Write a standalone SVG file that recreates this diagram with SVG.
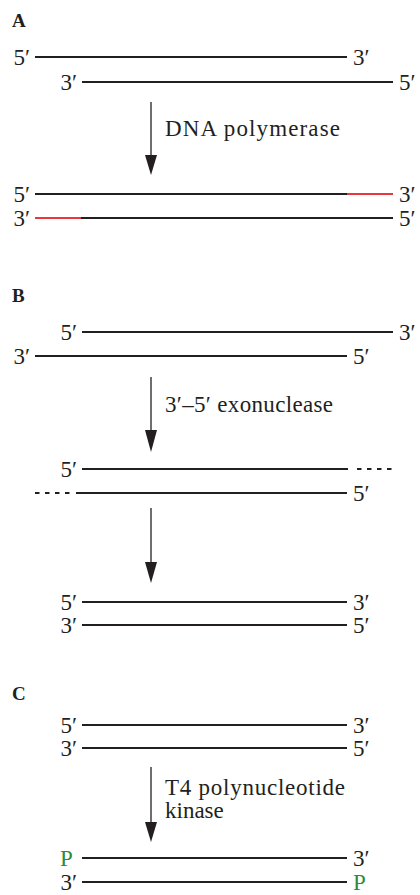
<svg xmlns="http://www.w3.org/2000/svg" width="420" height="895" viewBox="0 0 420 895" font-family="'Liberation Serif', 'Times New Roman', serif">
<style>
text{font-family:"Liberation Serif","Times New Roman",serif;font-size:23px;fill:#231f20}
.hd{font-weight:bold;font-size:19px}
.e{text-anchor:end}
.s{stroke:#231f20;stroke-width:1.8;fill:none}
.r{stroke:#e8383d;stroke-width:1.8;fill:none}
.d{stroke:#231f20;stroke-width:1.8;fill:none;stroke-dasharray:4.5 5.5}
.p{fill:#2e8b3a}
.ar{stroke:#231f20;stroke-width:1.3;fill:none}
.ah{fill:#231f20}
</style>
<rect width="420" height="895" fill="#fff"/>
<g id="panelA">
<text class="hd" x="12" y="27">A</text>
<g id="A-start">
<line class="s" x1="35" y1="57" x2="347" y2="57"/>
<text class="e" x="30" y="65">5′</text><text x="353" y="65">3′</text>
<line class="s" x1="82" y1="82" x2="393" y2="82"/>
<text class="e" x="77" y="90">3′</text><text x="399" y="90">5′</text>
</g>
<g id="A-end">
<line class="s" x1="35" y1="194" x2="347" y2="194"/>
<line class="r" x1="347" y1="194" x2="393" y2="194"/>
<text class="e" x="30" y="202">5′</text><text x="399" y="202">3′</text>
<line class="r" x1="35" y1="218" x2="81" y2="218"/>
<line class="s" x1="81" y1="218" x2="393" y2="218"/>
<text class="e" x="30" y="226">3′</text><text x="399" y="226">5′</text>
</g>
</g>
<g id="panelB">
<text class="hd" x="12" y="302">B</text>
<g id="B-start">
<line class="s" x1="82" y1="332" x2="393" y2="332"/>
<text class="e" x="77" y="340">5′</text><text x="399" y="340">3′</text>
<line class="s" x1="35" y1="356" x2="347" y2="356"/>
<text class="e" x="30" y="364">3′</text><text x="353" y="364">5′</text>
</g>
<g id="B-mid">
<line class="s" x1="82" y1="469" x2="348" y2="469"/>
<line class="d" x1="357" y1="469" x2="393" y2="469"/>
<text class="e" x="77" y="477">5′</text>
<line class="d" x1="35" y1="493" x2="71" y2="493"/>
<line class="s" x1="76" y1="493" x2="347" y2="493"/>
<text x="353" y="501">5′</text>
</g>
<g id="B-end">
<line class="s" x1="82" y1="602" x2="347" y2="602"/>
<text class="e" x="77" y="610">5′</text><text x="353" y="610">3′</text>
<line class="s" x1="82" y1="625" x2="347" y2="625"/>
<text class="e" x="77" y="633">3′</text><text x="353" y="633">5′</text>
</g>
</g>
<g id="panelC">
<text class="hd" x="12" y="700">C</text>
<g id="C-start">
<line class="s" x1="82" y1="725" x2="347" y2="725"/>
<text class="e" x="77" y="733">5′</text><text x="353" y="733">3′</text>
<line class="s" x1="82" y1="748" x2="347" y2="748"/>
<text class="e" x="77" y="756">3′</text><text x="353" y="756">5′</text>
</g>
<g id="C-end">
<line class="s" x1="82" y1="858" x2="347" y2="858"/>
<text class="p" x="60" y="866">P</text><text x="353" y="866">3′</text>
<line class="s" x1="82" y1="882" x2="347" y2="882"/>
<text class="e" x="77" y="890">3′</text><text class="p" x="353" y="890">P</text>
</g>
</g>
<g id="connectors">
<line class="ar" x1="151" y1="102" x2="151" y2="157"/>
<polygon class="ah" points="145,155 157,155 151,175"/>
<text x="165" y="136" textLength="175">DNA polymerase</text>
<line class="ar" x1="151" y1="377" x2="151" y2="432"/>
<polygon class="ah" points="145,430 157,430 151,452"/>
<text x="165" y="412" textLength="168">3′–5′ exonuclease</text>
<line class="ar" x1="151" y1="508" x2="151" y2="564"/>
<polygon class="ah" points="145,562 157,562 151,583"/>
<line class="ar" x1="151" y1="767" x2="151" y2="824"/>
<polygon class="ah" points="145,822 157,822 151,842"/>
<text x="165" y="795" textLength="180">T4 polynucleotide</text>
<text x="165" y="818">kinase</text>
</g>
</svg>
